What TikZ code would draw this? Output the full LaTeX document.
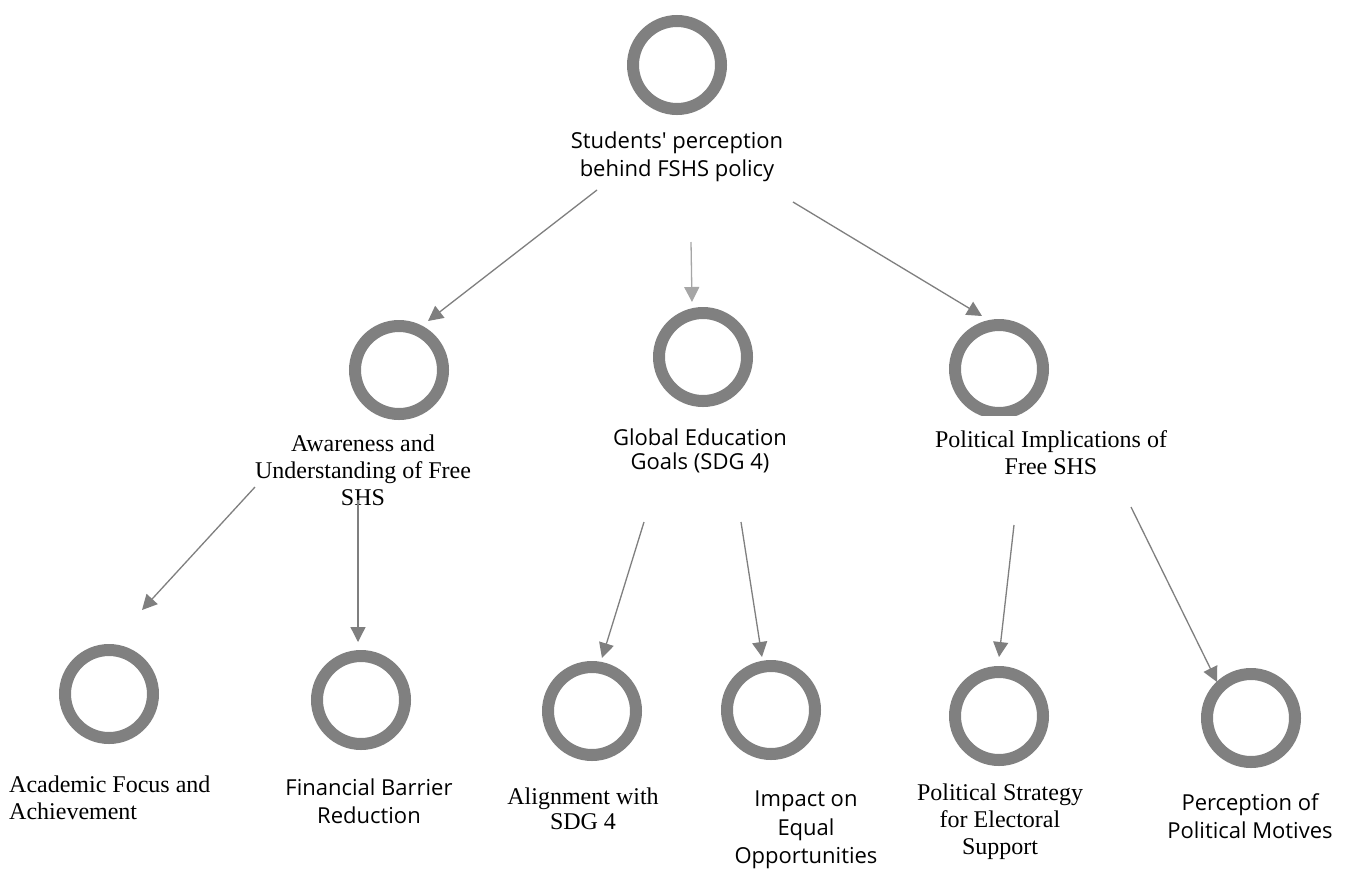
\documentclass[tikz,border=0pt]{standalone}
\usepackage{fontspec}
\setmainfont{Liberation Serif}
\newfontfamily\sansf{Open Sans}
\usetikzlibrary{arrows.meta}
\definecolor{ringgray}{HTML}{808080}
\definecolor{linegray}{HTML}{7F7F7F}
\definecolor{lightgray2}{HTML}{A6A6A6}
\newcommand{\serifsz}{\rmfamily\fontsize{24}{27}\selectfont}
\newcommand{\sanssz}{\sansf\fontsize{22}{28.5}\selectfont}
\tikzset{
  ring/.style={circle, draw=ringgray, line width=12pt, minimum size=88pt, inner sep=0pt},
  serlbl/.style={font=\serifsz, align=center, inner sep=0pt, text=black},
  sanlbl/.style={font=\sanssz, align=center, inner sep=0pt, text=black},
  arr/.style={draw=linegray, line width=1.3pt, -{Triangle[length=15pt,width=15pt]}},
}
\begin{document}
\begin{tikzpicture}[x=1pt,y=-1pt]
\useasboundingbox[fill=white] (0,0) rectangle (1346,871);
% circles
\node[ring] (c1) at (677,65) {};
\node[ring] (c2) at (399,370) {};
\node[ring] (c3) at (703,357) {};
\begin{scope}
  \clip (930,300) rectangle (1070,415);
  \node[ring] (c4) at (999,369) {};
\end{scope}
\node[ring] (c5) at (109,694) {};
\node[ring] (c6) at (361,700) {};
\node[ring] (c7) at (592,711) {};
\node[ring] (c8) at (771,710) {};
\node[ring] (c9) at (999,716) {};
\node[ring] (c10) at (1251,718) {};
% labels
\node[sanlbl] (t1) at (677,157) {Students' perception\\behind FSHS policy};
\node[serlbl] (t2) at (363,470) {Awareness and\\Understanding of Free\\SHS};
\node[sanlbl, font=\sansf\fontsize{22}{24.5}\selectfont] (t3) at (700,451) {Global Education\\Goals (SDG 4)};
\node[serlbl] (t4) at (1051,453) {Political Implications of\\Free SHS};
\node[serlbl, anchor=west, align=left] (t5) at (9,798) {Academic Focus and\\Achievement};
\node[sanlbl] (t6) at (369,801) {Financial Barrier\\Reduction};
\node[serlbl, font=\rmfamily\fontsize{24}{25.5}\selectfont] (t7) at (583,809) {Alignment with\\SDG 4};
\node[sanlbl] (t8) at (806,830) {Impact on\\Equal\\Opportunities};
\node[serlbl] (t9) at (1000,822) {Political Strategy\\for Electoral\\Support};
\node[sanlbl] (t10) at (1250,816) {Perception of\\Political Motives};
% connector ends
\coordinate (a1s) at (597,190); \coordinate (a1e) at (428,321);
\coordinate (a2s) at (691,242); \coordinate (a2e) at (692,302);
\coordinate (a3s) at (793,202); \coordinate (a3e) at (982,316);
\coordinate (a4s) at (255,487); \coordinate (a4e) at (142,610);
\coordinate (a5s) at (358,500); \coordinate (a5e) at (358,642);
\coordinate (a6s) at (644,522); \coordinate (a6e) at (602,658);
\coordinate (a7s) at (741,522); \coordinate (a7e) at (762,657);
\coordinate (a8s) at (1014,525); \coordinate (a8e) at (999,657);
\coordinate (a9s) at (1131,507); \coordinate (a9e) at (1217,682);
% connectors
\draw[arr] (a1s) -- (a1e);
\draw[arr, draw=lightgray2] (a2s) -- (a2e);
\draw[arr] (a3s) -- (a3e);
\draw[arr] (a4s) -- (a4e);
\draw[arr] (a5s) -- (a5e);
\draw[arr] (a6s) -- (a6e);
\draw[arr] (a7s) -- (a7e);
\draw[arr] (a8s) -- (a8e);
\draw[arr] (a9s) -- (a9e);
\end{tikzpicture}
\end{document}
